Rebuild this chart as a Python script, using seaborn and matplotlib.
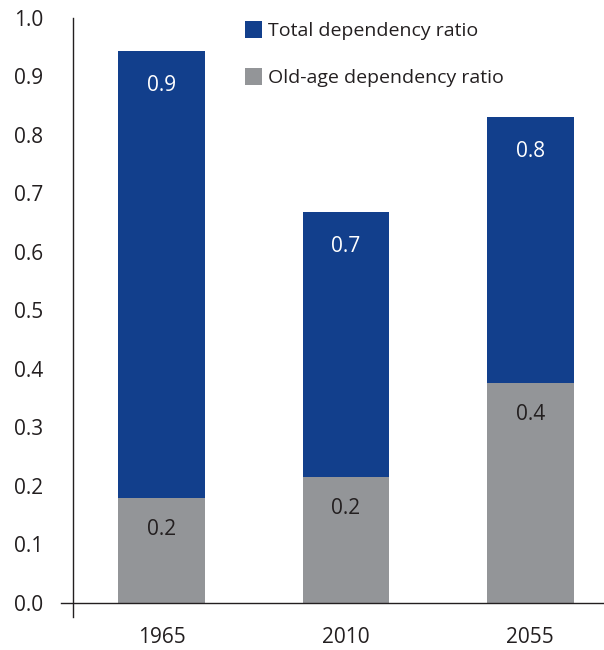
import matplotlib
matplotlib.use("Agg")
import matplotlib.pyplot as plt
import seaborn as sns

years = ["1965", "2010", "2055"]
total_ratio = [0.944, 0.668, 0.831]
old_age_ratio = [0.179, 0.215, 0.376]

blue = "#123f8c"
grey = "#939598"
ink = "#231f20"

sns.set_style("white")
plt.rcParams["font.family"] = ["Open Sans", "DejaVu Sans"]
plt.rcParams["text.color"] = ink

fig = plt.figure(figsize=(6.04, 6.5), dpi=100)
ax = fig.add_axes([0.101, 0.0508, 0.899, 0.9215])

sns.barplot(x=years, y=total_ratio, color=blue, saturation=1, width=0.47,
            linewidth=0, label="Total dependency ratio", ax=ax)
sns.barplot(x=years, y=old_age_ratio, color=grey, saturation=1, width=0.47,
            linewidth=0, label="Old-age dependency ratio", ax=ax)

ax.bar_label(ax.containers[0], fmt="%.1f", padding=-32.5, color="white", fontsize=15)
ax.bar_label(ax.containers[1], fmt="%.1f", padding=-30, color=ink, fontsize=15)

ax.set_xlim(-0.545, 2.4)
ax.set_ylim(-0.024, 1.0)
ax.set_yticks([i / 10 for i in range(11)])
ax.set_yticklabels([f"{i / 10:.1f}" for i in range(11)])

for side in ["top", "right"]:
    ax.spines[side].set_visible(False)
ax.spines["bottom"].set_position(("data", 0))
ax.spines["left"].set_position(("axes", 0.022))
for side in ["bottom", "left"]:
    ax.spines[side].set_color(ink)
    ax.spines[side].set_linewidth(1.0)

ax.tick_params(axis="y", length=0, pad=21.5, labelsize=15, labelcolor=ink)
ax.tick_params(axis="x", length=0, pad=17, labelsize=15, labelcolor=ink)
ax.set_xlabel("")
ax.set_ylabel("")

ax.legend(loc="upper left", bbox_to_anchor=(0.405, 0.967), bbox_transform=fig.transFigure,
          frameon=False, fontsize=14, handlelength=0.9, handleheight=0.9,
          handletextpad=0.3, labelspacing=1.45, borderaxespad=0, borderpad=0)

fig.savefig("out.png", dpi=100)
